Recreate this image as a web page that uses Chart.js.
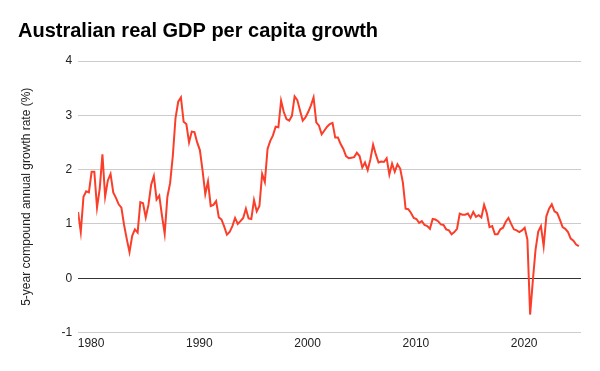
<!DOCTYPE html>
<html>
<head>
<meta charset="utf-8">
<script src="https://cdn.jsdelivr.net/npm/chart.js@4.4.1/dist/chart.umd.min.js"></script>
<style>
  html, body { margin: 0; padding: 0; background: #fff; }
  #wrap { width: 600px; height: 371px; }
</style>
</head>
<body>
<div id="wrap"><canvas id="gdp-chart"></canvas></div>
<script>
// quarterly 5-year compound annual growth rate (%), first point late 1978
const startYear = 1978.8;
const growth = [
  1.22, 0.85, 1.50, 1.60, 1.58, 1.96, 1.96, 1.30, 1.65, 2.28,
  1.50, 1.80, 1.92, 1.58, 1.48, 1.36, 1.30, 0.98, 0.72, 0.48,
  0.78, 0.90, 0.84, 1.40, 1.38, 1.12, 1.35, 1.72, 1.88, 1.45,
  1.52, 1.15, 0.82, 1.50, 1.75, 2.25, 2.95, 3.25, 3.33, 2.88,
  2.84, 2.50, 2.70, 2.69, 2.50, 2.36, 1.98, 1.55, 1.78, 1.33,
  1.35, 1.42, 1.12, 1.08, 0.95, 0.80, 0.85, 0.96, 1.11, 1.00,
  1.05, 1.11, 1.28, 1.10, 1.09, 1.44, 1.23, 1.33, 1.92, 1.77,
  2.38, 2.53, 2.63, 2.79, 2.78, 3.27, 3.06, 2.93, 2.90, 2.99,
  3.35, 3.28, 3.09, 2.90, 2.96, 3.06, 3.18, 3.33, 2.87, 2.81,
  2.65, 2.72, 2.79, 2.84, 2.86, 2.59, 2.59, 2.47, 2.38, 2.25,
  2.21, 2.22, 2.23, 2.31, 2.25, 2.04, 2.13, 1.99, 2.19, 2.46,
  2.28, 2.13, 2.15, 2.14, 2.21, 1.91, 2.11, 1.96, 2.10, 2.02,
  1.76, 1.28, 1.27, 1.20, 1.11, 1.09, 1.02, 1.05, 0.98, 0.96,
  0.91, 1.09, 1.08, 1.05, 0.99, 0.98, 0.90, 0.88, 0.81, 0.85,
  0.91, 1.19, 1.17, 1.17, 1.19, 1.11, 1.22, 1.13, 1.16, 1.12,
  1.35, 1.20, 0.94, 0.96, 0.81, 0.81, 0.90, 0.93, 1.04, 1.11,
  1.00, 0.90, 0.88, 0.85, 0.88, 0.93, 0.71, -0.67, -0.05, 0.52,
  0.86, 0.96, 0.59, 1.14, 1.28, 1.36, 1.23, 1.20, 1.08, 0.94,
  0.91, 0.85, 0.73, 0.69, 0.62, 0.59
];
const yearTicks = [1980, 1990, 2000, 2010, 2020];
const yTicks = [-1, 0, 1, 2, 3, 4];

const fontFamily = "'Liberation Sans', Arial, sans-serif";

const points = growth.map(function (v, i) {
  return { x: startYear + i * 0.25, y: v };
});

const ctx = document.getElementById('gdp-chart').getContext('2d');

new Chart(ctx, {
  type: 'line',
  data: {
    datasets: [
      {
        label: 'Growth',
        data: points,
        borderColor: '#fb3e2a',
        borderWidth: 2,
        pointRadius: 0,
        tension: 0,
        fill: false
      }
    ]
  },
  options: {
    responsive: true,
    maintainAspectRatio: false,
    animation: false,
    layout: {
      padding: { left: 18, right: 19, top: 0, bottom: 0 }
    },
    plugins: {
      legend: { display: false },
      tooltip: { enabled: false },
      title: {
        display: true,
        text: 'Australian real GDP per capita growth',
        align: 'start',
        color: '#000',
        font: { family: fontFamily, size: 20, weight: 'bold' },
        padding: { top: 19, bottom: 18 }
      }
    },
    scales: {
      x: {
        type: 'linear',
        min: startYear,
        max: 2025.25,
        afterBuildTicks: function (scale) {
          scale.ticks = yearTicks.map(function (v) { return { value: v }; });
        },
        afterFit: function (scale) {
          // leave the plot bottom where the reference has it
          scale.height = 38.5;
        },
        grid: { display: false, drawTicks: false },
        border: { display: false },
        ticks: {
          color: '#222',
          font: { family: fontFamily, size: 12 },
          padding: 4,
          maxRotation: 0,
          callback: function (v) { return String(v); }
        }
      },
      y: {
        min: yTicks[0],
        max: yTicks[yTicks.length - 1],
        afterBuildTicks: function (scale) {
          scale.ticks = yTicks.map(function (v) { return { value: v }; });
        },
        grid: {
          drawTicks: false,
          color: function (c) { return c.tick && c.tick.value === 0 ? '#333' : '#ccc'; },
          lineWidth: 1
        },
        border: { display: false },
        ticks: {
          color: '#222',
          font: { family: fontFamily, size: 12 },
          padding: 6
        },
        title: {
          display: true,
          text: '5-year compound annual growth rate (%)',
          color: '#222',
          font: { family: fontFamily, size: 12 },
          padding: { top: 1, bottom: 22 }
        }
      }
    }
  }
});
</script>
</body>
</html>
